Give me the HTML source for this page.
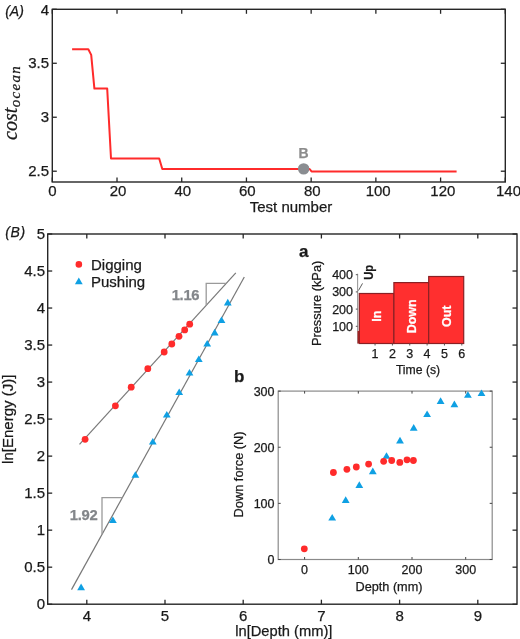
<!DOCTYPE html>
<html><head><meta charset="utf-8"><style>
html,body{margin:0;padding:0;background:#fff;}
svg{display:block;will-change:transform;}
</style></head><body>
<svg width="520" height="639" viewBox="0 0 520 639" font-family='"Liberation Sans", sans-serif' fill="#1a1a1a">
<rect width="520" height="639" fill="#fff"/>
<rect x="52.3" y="9.3" width="453.00" height="172.70" fill="none" stroke="#262626" stroke-width="1.4"/>
<line x1="52.30" y1="182" x2="52.30" y2="177.5" stroke="#262626" stroke-width="1.3"/>
<line x1="52.30" y1="9.3" x2="52.30" y2="13.8" stroke="#262626" stroke-width="1.3"/>
<text x="52.30" y="196" font-size="15" text-anchor="middle" stroke="#1a1a1a" stroke-width="0.25">0</text>
<line x1="117.01" y1="182" x2="117.01" y2="177.5" stroke="#262626" stroke-width="1.3"/>
<line x1="117.01" y1="9.3" x2="117.01" y2="13.8" stroke="#262626" stroke-width="1.3"/>
<text x="118.01" y="196" font-size="15" text-anchor="middle" stroke="#1a1a1a" stroke-width="0.25">20</text>
<line x1="181.73" y1="182" x2="181.73" y2="177.5" stroke="#262626" stroke-width="1.3"/>
<line x1="181.73" y1="9.3" x2="181.73" y2="13.8" stroke="#262626" stroke-width="1.3"/>
<text x="182.73" y="196" font-size="15" text-anchor="middle" stroke="#1a1a1a" stroke-width="0.25">40</text>
<line x1="246.44" y1="182" x2="246.44" y2="177.5" stroke="#262626" stroke-width="1.3"/>
<line x1="246.44" y1="9.3" x2="246.44" y2="13.8" stroke="#262626" stroke-width="1.3"/>
<text x="247.24" y="196" font-size="15" text-anchor="middle" stroke="#1a1a1a" stroke-width="0.25">60</text>
<line x1="311.16" y1="182" x2="311.16" y2="177.5" stroke="#262626" stroke-width="1.3"/>
<line x1="311.16" y1="9.3" x2="311.16" y2="13.8" stroke="#262626" stroke-width="1.3"/>
<text x="312.36" y="196" font-size="15" text-anchor="middle" stroke="#1a1a1a" stroke-width="0.25">80</text>
<line x1="375.87" y1="182" x2="375.87" y2="177.5" stroke="#262626" stroke-width="1.3"/>
<line x1="375.87" y1="9.3" x2="375.87" y2="13.8" stroke="#262626" stroke-width="1.3"/>
<text x="378.17" y="196" font-size="15" text-anchor="middle" stroke="#1a1a1a" stroke-width="0.25">100</text>
<line x1="440.59" y1="182" x2="440.59" y2="177.5" stroke="#262626" stroke-width="1.3"/>
<line x1="440.59" y1="9.3" x2="440.59" y2="13.8" stroke="#262626" stroke-width="1.3"/>
<text x="442.89" y="196" font-size="15" text-anchor="middle" stroke="#1a1a1a" stroke-width="0.25">120</text>
<line x1="505.30" y1="182" x2="505.30" y2="177.5" stroke="#262626" stroke-width="1.3"/>
<line x1="505.30" y1="9.3" x2="505.30" y2="13.8" stroke="#262626" stroke-width="1.3"/>
<text x="508.50" y="196" font-size="15" text-anchor="middle" stroke="#1a1a1a" stroke-width="0.25">140</text>
<line x1="52.3" y1="171.21" x2="56.8" y2="171.21" stroke="#262626" stroke-width="1.3"/>
<line x1="505.3" y1="171.21" x2="500.8" y2="171.21" stroke="#262626" stroke-width="1.3"/>
<text x="49" y="176.41" font-size="15" text-anchor="end" stroke="#1a1a1a" stroke-width="0.25">2.5</text>
<line x1="52.3" y1="117.24" x2="56.8" y2="117.24" stroke="#262626" stroke-width="1.3"/>
<line x1="505.3" y1="117.24" x2="500.8" y2="117.24" stroke="#262626" stroke-width="1.3"/>
<text x="49" y="122.44" font-size="15" text-anchor="end" stroke="#1a1a1a" stroke-width="0.25">3</text>
<line x1="52.3" y1="63.27" x2="56.8" y2="63.27" stroke="#262626" stroke-width="1.3"/>
<line x1="505.3" y1="63.27" x2="500.8" y2="63.27" stroke="#262626" stroke-width="1.3"/>
<text x="49" y="68.47" font-size="15" text-anchor="end" stroke="#1a1a1a" stroke-width="0.25">3.5</text>
<line x1="52.3" y1="9.30" x2="56.8" y2="9.30" stroke="#262626" stroke-width="1.3"/>
<line x1="505.3" y1="9.30" x2="500.8" y2="9.30" stroke="#262626" stroke-width="1.3"/>
<text x="49" y="14.50" font-size="15" text-anchor="end" stroke="#1a1a1a" stroke-width="0.25">4</text>
<polyline fill="none" stroke="#ff2b2b" stroke-width="2.0" stroke-linejoin="round" points="72.1,49.3 88.3,49.3 91.2,54.9 94.4,88.6 107.2,88.6 111,158.5 159.2,158.5 162.3,169.0 309.6,169.0 311.5,171.4 456.6,171.4"/>
<circle cx="303.65" cy="168.85" r="5.7" fill="#8a8d91"/>
<text x="303.65" y="158.2" font-size="14" font-weight="bold" fill="#8c8c8c" text-anchor="middle" stroke="#8c8c8c" stroke-width="0.25">B</text>
<text x="291" y="211.9" font-size="15" text-anchor="middle" stroke="#1a1a1a" stroke-width="0.25">Test number</text>
<text transform="translate(16.8,140) rotate(-90)" font-family="'Liberation Serif', serif" font-style="italic" font-size="20" stroke="#1a1a1a" stroke-width="0.25">cost<tspan font-size="15" dy="3.3" dx="0.5" letter-spacing="1.3">ocean</tspan></text>
<text x="5.2" y="15.6" font-size="14" font-style="italic" stroke="#1a1a1a" stroke-width="0.25">(A)</text>
<text x="5.2" y="237" font-size="14" font-style="italic" letter-spacing="0.7" stroke="#1a1a1a" stroke-width="0.25">(B)</text>
<rect x="47.7" y="234" width="469.30" height="370.20" fill="none" stroke="#262626" stroke-width="1.4"/>
<line x1="86.80" y1="604.2" x2="86.80" y2="599.7" stroke="#262626" stroke-width="1.3"/>
<line x1="86.80" y1="234" x2="86.80" y2="238.5" stroke="#262626" stroke-width="1.3"/>
<text x="86.80" y="620.8" font-size="15" text-anchor="middle" stroke="#1a1a1a" stroke-width="0.25">4</text>
<line x1="165.00" y1="604.2" x2="165.00" y2="599.7" stroke="#262626" stroke-width="1.3"/>
<line x1="165.00" y1="234" x2="165.00" y2="238.5" stroke="#262626" stroke-width="1.3"/>
<text x="165.00" y="620.8" font-size="15" text-anchor="middle" stroke="#1a1a1a" stroke-width="0.25">5</text>
<line x1="243.20" y1="604.2" x2="243.20" y2="599.7" stroke="#262626" stroke-width="1.3"/>
<line x1="243.20" y1="234" x2="243.20" y2="238.5" stroke="#262626" stroke-width="1.3"/>
<text x="243.20" y="620.8" font-size="15" text-anchor="middle" stroke="#1a1a1a" stroke-width="0.25">6</text>
<line x1="321.40" y1="604.2" x2="321.40" y2="599.7" stroke="#262626" stroke-width="1.3"/>
<line x1="321.40" y1="234" x2="321.40" y2="238.5" stroke="#262626" stroke-width="1.3"/>
<text x="321.40" y="620.8" font-size="15" text-anchor="middle" stroke="#1a1a1a" stroke-width="0.25">7</text>
<line x1="399.60" y1="604.2" x2="399.60" y2="599.7" stroke="#262626" stroke-width="1.3"/>
<line x1="399.60" y1="234" x2="399.60" y2="238.5" stroke="#262626" stroke-width="1.3"/>
<text x="399.60" y="620.8" font-size="15" text-anchor="middle" stroke="#1a1a1a" stroke-width="0.25">8</text>
<line x1="477.80" y1="604.2" x2="477.80" y2="599.7" stroke="#262626" stroke-width="1.3"/>
<line x1="477.80" y1="234" x2="477.80" y2="238.5" stroke="#262626" stroke-width="1.3"/>
<text x="477.80" y="620.8" font-size="15" text-anchor="middle" stroke="#1a1a1a" stroke-width="0.25">9</text>
<line x1="47.7" y1="604.20" x2="52.2" y2="604.20" stroke="#262626" stroke-width="1.3"/>
<line x1="517" y1="604.20" x2="512.5" y2="604.20" stroke="#262626" stroke-width="1.3"/>
<text x="45" y="609.40" font-size="15" text-anchor="end" stroke="#1a1a1a" stroke-width="0.25">0</text>
<line x1="47.7" y1="567.18" x2="52.2" y2="567.18" stroke="#262626" stroke-width="1.3"/>
<line x1="517" y1="567.18" x2="512.5" y2="567.18" stroke="#262626" stroke-width="1.3"/>
<text x="45" y="572.38" font-size="15" text-anchor="end" stroke="#1a1a1a" stroke-width="0.25">0.5</text>
<line x1="47.7" y1="530.16" x2="52.2" y2="530.16" stroke="#262626" stroke-width="1.3"/>
<line x1="517" y1="530.16" x2="512.5" y2="530.16" stroke="#262626" stroke-width="1.3"/>
<text x="45" y="535.36" font-size="15" text-anchor="end" stroke="#1a1a1a" stroke-width="0.25">1</text>
<line x1="47.7" y1="493.14" x2="52.2" y2="493.14" stroke="#262626" stroke-width="1.3"/>
<line x1="517" y1="493.14" x2="512.5" y2="493.14" stroke="#262626" stroke-width="1.3"/>
<text x="45" y="498.34" font-size="15" text-anchor="end" stroke="#1a1a1a" stroke-width="0.25">1.5</text>
<line x1="47.7" y1="456.12" x2="52.2" y2="456.12" stroke="#262626" stroke-width="1.3"/>
<line x1="517" y1="456.12" x2="512.5" y2="456.12" stroke="#262626" stroke-width="1.3"/>
<text x="45" y="461.32" font-size="15" text-anchor="end" stroke="#1a1a1a" stroke-width="0.25">2</text>
<line x1="47.7" y1="419.10" x2="52.2" y2="419.10" stroke="#262626" stroke-width="1.3"/>
<line x1="517" y1="419.10" x2="512.5" y2="419.10" stroke="#262626" stroke-width="1.3"/>
<text x="45" y="424.30" font-size="15" text-anchor="end" stroke="#1a1a1a" stroke-width="0.25">2.5</text>
<line x1="47.7" y1="382.08" x2="52.2" y2="382.08" stroke="#262626" stroke-width="1.3"/>
<line x1="517" y1="382.08" x2="512.5" y2="382.08" stroke="#262626" stroke-width="1.3"/>
<text x="45" y="387.28" font-size="15" text-anchor="end" stroke="#1a1a1a" stroke-width="0.25">3</text>
<line x1="47.7" y1="345.06" x2="52.2" y2="345.06" stroke="#262626" stroke-width="1.3"/>
<line x1="517" y1="345.06" x2="512.5" y2="345.06" stroke="#262626" stroke-width="1.3"/>
<text x="45" y="350.26" font-size="15" text-anchor="end" stroke="#1a1a1a" stroke-width="0.25">3.5</text>
<line x1="47.7" y1="308.04" x2="52.2" y2="308.04" stroke="#262626" stroke-width="1.3"/>
<line x1="517" y1="308.04" x2="512.5" y2="308.04" stroke="#262626" stroke-width="1.3"/>
<text x="45" y="313.24" font-size="15" text-anchor="end" stroke="#1a1a1a" stroke-width="0.25">4</text>
<line x1="47.7" y1="271.02" x2="52.2" y2="271.02" stroke="#262626" stroke-width="1.3"/>
<line x1="517" y1="271.02" x2="512.5" y2="271.02" stroke="#262626" stroke-width="1.3"/>
<text x="45" y="276.22" font-size="15" text-anchor="end" stroke="#1a1a1a" stroke-width="0.25">4.5</text>
<line x1="47.7" y1="234.00" x2="52.2" y2="234.00" stroke="#262626" stroke-width="1.3"/>
<line x1="517" y1="234.00" x2="512.5" y2="234.00" stroke="#262626" stroke-width="1.3"/>
<text x="45" y="239.20" font-size="15" text-anchor="end" stroke="#1a1a1a" stroke-width="0.25">5</text>
<text x="283.8" y="635.5" font-size="14.7" text-anchor="middle" stroke="#1a1a1a" stroke-width="0.25">ln[Depth (mm)]</text>
<text transform="translate(13,419.3) rotate(-90)" font-size="15" text-anchor="middle" stroke="#1a1a1a" stroke-width="0.25">ln[Energy (J)]</text>
<line x1="79.5" y1="444.3" x2="235.8" y2="272.8" stroke="#787878" stroke-width="1.2"/>
<line x1="71.5" y1="589.6" x2="244.3" y2="277" stroke="#787878" stroke-width="1.2"/>
<polyline fill="none" stroke="#9a9a9a" stroke-width="1.3" points="206.2,305.3 206.2,283.3 226.3,283.3"/>
<polyline fill="none" stroke="#9a9a9a" stroke-width="1.3" points="102,534.4 102,497.6 122.4,497.6"/>
<text x="185.5" y="299.5" font-size="14.8" letter-spacing="-0.3" font-weight="bold" fill="#83868a" text-anchor="middle" stroke="#83868a" stroke-width="0.25">1.16</text>
<text x="83.6" y="519.6" font-size="14.8" letter-spacing="-0.3" font-weight="bold" fill="#83868a" text-anchor="middle" stroke="#83868a" stroke-width="0.25">1.92</text>
<polygon fill="#0fa0e3" points="77.20,590.20 85.00,590.20 81.10,583.60"/>
<polygon fill="#0fa0e3" points="109.00,523.00 116.80,523.00 112.90,516.40"/>
<polygon fill="#0fa0e3" points="131.50,477.80 139.30,477.80 135.40,471.20"/>
<polygon fill="#0fa0e3" points="148.90,444.50 156.70,444.50 152.80,437.90"/>
<polygon fill="#0fa0e3" points="162.90,417.60 170.70,417.60 166.80,411.00"/>
<polygon fill="#0fa0e3" points="175.30,395.00 183.10,395.00 179.20,388.40"/>
<polygon fill="#0fa0e3" points="185.60,375.60 193.40,375.60 189.50,369.00"/>
<polygon fill="#0fa0e3" points="194.90,362.00 202.70,362.00 198.80,355.40"/>
<polygon fill="#0fa0e3" points="203.30,346.60 211.10,346.60 207.20,340.00"/>
<polygon fill="#0fa0e3" points="210.80,335.40 218.60,335.40 214.70,328.80"/>
<polygon fill="#0fa0e3" points="217.60,323.00 225.40,323.00 221.50,316.40"/>
<polygon fill="#0fa0e3" points="223.90,305.40 231.70,305.40 227.80,298.80"/>
<circle cx="85.1" cy="439.30" r="3.4" fill="#ff2b2b"/>
<circle cx="115.4" cy="405.80" r="3.4" fill="#ff2b2b"/>
<circle cx="131.2" cy="387.20" r="3.4" fill="#ff2b2b"/>
<circle cx="147.8" cy="368.70" r="3.4" fill="#ff2b2b"/>
<circle cx="164.2" cy="352.00" r="3.4" fill="#ff2b2b"/>
<circle cx="171.8" cy="344.00" r="3.4" fill="#ff2b2b"/>
<circle cx="179" cy="336.30" r="3.4" fill="#ff2b2b"/>
<circle cx="184.7" cy="329.90" r="3.4" fill="#ff2b2b"/>
<circle cx="189.7" cy="324.20" r="3.4" fill="#ff2b2b"/>
<circle cx="78.85" cy="264.4" r="3.3" fill="#ff2b2b"/>
<polygon fill="#0fa0e3" points="74.90,284.20 82.70,284.20 78.80,277.60"/>
<text x="91" y="269.9" font-size="15" stroke="#1a1a1a" stroke-width="0.25">Digging</text>
<text x="91" y="287.2" font-size="15" stroke="#1a1a1a" stroke-width="0.25">Pushing</text>
<text x="299" y="256.6" font-size="17" font-weight="bold" stroke="#1a1a1a" stroke-width="0.25">a</text>
<line x1="357.6" y1="273.8" x2="357.6" y2="343.5" stroke="#9a9a9a" stroke-width="1.1"/>
<line x1="355.8" y1="326.30" x2="357.6" y2="326.30" stroke="#555" stroke-width="1"/>
<text x="353" y="330.70" font-size="12.5" text-anchor="end" stroke="#1a1a1a" stroke-width="0.25">100</text>
<line x1="355.8" y1="309.10" x2="357.6" y2="309.10" stroke="#555" stroke-width="1"/>
<text x="353" y="313.50" font-size="12.5" text-anchor="end" stroke="#1a1a1a" stroke-width="0.25">200</text>
<line x1="355.8" y1="291.90" x2="357.6" y2="291.90" stroke="#555" stroke-width="1"/>
<text x="353" y="296.30" font-size="12.5" text-anchor="end" stroke="#1a1a1a" stroke-width="0.25">300</text>
<line x1="355.8" y1="274.70" x2="357.6" y2="274.70" stroke="#555" stroke-width="1"/>
<text x="353" y="279.10" font-size="12.5" text-anchor="end" stroke="#1a1a1a" stroke-width="0.25">400</text>
<rect x="357.6" y="331" width="2" height="12.5" fill="#b22222"/>
<rect x="359.3" y="293.5" width="34.60" height="50.00" fill="#ff2f2f" stroke="#8a2024" stroke-width="1.2"/>
<text transform="translate(381.10,316.3) rotate(-90)" font-size="12.5" font-weight="bold" fill="#fff" text-anchor="middle" stroke="#fff" stroke-width="0.25">In</text>
<rect x="393.9" y="282.6" width="34.80" height="60.90" fill="#ff2f2f" stroke="#8a2024" stroke-width="1.2"/>
<text transform="translate(415.80,316.3) rotate(-90)" font-size="12.5" font-weight="bold" fill="#fff" text-anchor="middle" stroke="#fff" stroke-width="0.25">Down</text>
<rect x="428.7" y="276.5" width="35.00" height="67.00" fill="#ff2f2f" stroke="#8a2024" stroke-width="1.2"/>
<text transform="translate(450.70,316.3) rotate(-90)" font-size="12.5" font-weight="bold" fill="#fff" text-anchor="middle" stroke="#fff" stroke-width="0.25">Out</text>
<line x1="375.05" y1="343.5" x2="375.05" y2="345.5" stroke="#555" stroke-width="1"/>
<text x="375.05" y="357.8" font-size="12.5" text-anchor="middle" stroke="#1a1a1a" stroke-width="0.25">1</text>
<line x1="392.40" y1="343.5" x2="392.40" y2="345.5" stroke="#555" stroke-width="1"/>
<text x="392.40" y="357.8" font-size="12.5" text-anchor="middle" stroke="#1a1a1a" stroke-width="0.25">2</text>
<line x1="409.75" y1="343.5" x2="409.75" y2="345.5" stroke="#555" stroke-width="1"/>
<text x="409.75" y="357.8" font-size="12.5" text-anchor="middle" stroke="#1a1a1a" stroke-width="0.25">3</text>
<line x1="427.10" y1="343.5" x2="427.10" y2="345.5" stroke="#555" stroke-width="1"/>
<text x="427.10" y="357.8" font-size="12.5" text-anchor="middle" stroke="#1a1a1a" stroke-width="0.25">4</text>
<line x1="444.45" y1="343.5" x2="444.45" y2="345.5" stroke="#555" stroke-width="1"/>
<text x="444.45" y="357.8" font-size="12.5" text-anchor="middle" stroke="#1a1a1a" stroke-width="0.25">5</text>
<line x1="461.80" y1="343.5" x2="461.80" y2="345.5" stroke="#555" stroke-width="1"/>
<text x="461.80" y="357.8" font-size="12.5" text-anchor="middle" stroke="#1a1a1a" stroke-width="0.25">6</text>
<text x="418" y="373.6" font-size="12.2" text-anchor="middle" stroke="#1a1a1a" stroke-width="0.25">Time (s)</text>
<text transform="translate(321,303.4) rotate(-90)" font-size="12.8" text-anchor="middle" stroke="#1a1a1a" stroke-width="0.25">Pressure (kPa)</text>
<text transform="translate(372.7,272.3) rotate(-90) scale(0.86,1)" font-size="13" font-weight="bold" text-anchor="middle" stroke="#1a1a1a" stroke-width="0.25">Up</text>
<line x1="362.5" y1="283.4" x2="358.5" y2="290.5" stroke="#333" stroke-width="0.8"/>
<text x="234" y="382.2" font-size="17" font-weight="bold" stroke="#1a1a1a" stroke-width="0.25">b</text>
<rect x="278.2" y="391.1" width="214.0" height="168.39999999999998" fill="none" stroke="#8a8a8a" stroke-width="1.2"/>
<line x1="304.60" y1="559.5" x2="304.60" y2="557.0" stroke="#444" stroke-width="1"/>
<line x1="304.60" y1="391.1" x2="304.60" y2="393.6" stroke="#444" stroke-width="1"/>
<text x="304.60" y="573.6" font-size="12.5" text-anchor="middle" stroke="#1a1a1a" stroke-width="0.25">0</text>
<line x1="358.30" y1="559.5" x2="358.30" y2="557.0" stroke="#444" stroke-width="1"/>
<line x1="358.30" y1="391.1" x2="358.30" y2="393.6" stroke="#444" stroke-width="1"/>
<text x="358.30" y="573.6" font-size="12.5" text-anchor="middle" stroke="#1a1a1a" stroke-width="0.25">100</text>
<line x1="412.00" y1="559.5" x2="412.00" y2="557.0" stroke="#444" stroke-width="1"/>
<line x1="412.00" y1="391.1" x2="412.00" y2="393.6" stroke="#444" stroke-width="1"/>
<text x="412.00" y="573.6" font-size="12.5" text-anchor="middle" stroke="#1a1a1a" stroke-width="0.25">200</text>
<line x1="465.70" y1="559.5" x2="465.70" y2="557.0" stroke="#444" stroke-width="1"/>
<line x1="465.70" y1="391.1" x2="465.70" y2="393.6" stroke="#444" stroke-width="1"/>
<text x="465.70" y="573.6" font-size="12.5" text-anchor="middle" stroke="#1a1a1a" stroke-width="0.25">300</text>
<line x1="278.2" y1="559.50" x2="280.7" y2="559.50" stroke="#444" stroke-width="1"/>
<line x1="492.2" y1="559.50" x2="489.7" y2="559.50" stroke="#444" stroke-width="1"/>
<text x="274.5" y="563.90" font-size="12.5" text-anchor="end" stroke="#1a1a1a" stroke-width="0.25">0</text>
<line x1="278.2" y1="503.37" x2="280.7" y2="503.37" stroke="#444" stroke-width="1"/>
<line x1="492.2" y1="503.37" x2="489.7" y2="503.37" stroke="#444" stroke-width="1"/>
<text x="274.5" y="507.77" font-size="12.5" text-anchor="end" stroke="#1a1a1a" stroke-width="0.25">100</text>
<line x1="278.2" y1="447.24" x2="280.7" y2="447.24" stroke="#444" stroke-width="1"/>
<line x1="492.2" y1="447.24" x2="489.7" y2="447.24" stroke="#444" stroke-width="1"/>
<text x="274.5" y="451.64" font-size="12.5" text-anchor="end" stroke="#1a1a1a" stroke-width="0.25">200</text>
<line x1="278.2" y1="391.11" x2="280.7" y2="391.11" stroke="#444" stroke-width="1"/>
<line x1="492.2" y1="391.11" x2="489.7" y2="391.11" stroke="#444" stroke-width="1"/>
<text x="274.5" y="395.51" font-size="12.5" text-anchor="end" stroke="#1a1a1a" stroke-width="0.25">300</text>
<text x="389" y="591" font-size="12.7" text-anchor="middle" stroke="#1a1a1a" stroke-width="0.25">Depth (mm)</text>
<text transform="translate(242.7,474.4) rotate(-90)" font-size="12.8" text-anchor="middle" stroke="#1a1a1a" stroke-width="0.25">Down force (N)</text>
<polygon fill="#0fa0e3" points="328.30,520.50 336.10,520.50 332.20,513.90"/>
<polygon fill="#0fa0e3" points="341.80,502.90 349.60,502.90 345.70,496.30"/>
<polygon fill="#0fa0e3" points="355.40,487.90 363.20,487.90 359.30,481.30"/>
<polygon fill="#0fa0e3" points="368.90,474.20 376.70,474.20 372.80,467.60"/>
<polygon fill="#0fa0e3" points="382.60,458.80 390.40,458.80 386.50,452.20"/>
<polygon fill="#0fa0e3" points="396.10,443.40 403.90,443.40 400.00,436.80"/>
<polygon fill="#0fa0e3" points="409.80,430.70 417.60,430.70 413.70,424.10"/>
<polygon fill="#0fa0e3" points="423.20,417.10 431.00,417.10 427.10,410.50"/>
<polygon fill="#0fa0e3" points="436.70,403.90 444.50,403.90 440.60,397.30"/>
<polygon fill="#0fa0e3" points="450.50,407.20 458.30,407.20 454.40,400.60"/>
<polygon fill="#0fa0e3" points="464.00,397.80 471.80,397.80 467.90,391.20"/>
<polygon fill="#0fa0e3" points="477.60,396.10 485.40,396.10 481.50,389.50"/>
<circle cx="304.3" cy="548.80" r="3.4" fill="#ff2b2b"/>
<circle cx="333.4" cy="472.50" r="3.4" fill="#ff2b2b"/>
<circle cx="346.9" cy="469.30" r="3.4" fill="#ff2b2b"/>
<circle cx="356.3" cy="467.00" r="3.4" fill="#ff2b2b"/>
<circle cx="368.6" cy="464.10" r="3.4" fill="#ff2b2b"/>
<circle cx="383.65" cy="461.30" r="3.4" fill="#ff2b2b"/>
<circle cx="391.7" cy="460.50" r="3.4" fill="#ff2b2b"/>
<circle cx="399.8" cy="462.40" r="3.4" fill="#ff2b2b"/>
<circle cx="407" cy="459.80" r="3.4" fill="#ff2b2b"/>
<circle cx="413.4" cy="460.50" r="3.4" fill="#ff2b2b"/>
</svg>
</body></html>
